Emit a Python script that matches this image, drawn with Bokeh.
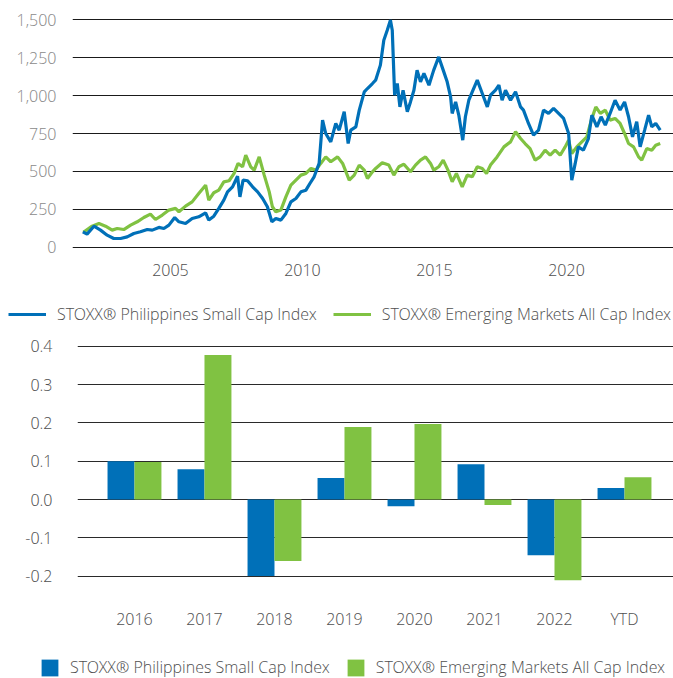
from bokeh.plotting import figure
from bokeh.models import Range1d, FixedTicker, NumeralTickFormatter, Legend, LegendItem, ColumnDataSource
from bokeh.layouts import column
from bokeh.embed import file_html
from bokeh.resources import INLINE
from bokeh.transform import dodge

# ---------------- data ----------------
ph_years = [2001.68, 2001.84, 2002.10, 2002.35, 2002.60, 2002.85, 2003.11, 2003.36, 2003.61, 2003.86,
            2004.12, 2004.31, 2004.56, 2004.75, 2004.94, 2005.16, 2005.32, 2005.57, 2005.82, 2006.07,
            2006.33, 2006.45, 2006.64, 2006.83, 2007.02, 2007.16, 2007.35, 2007.54, 2007.63, 2007.75,
            2007.92, 2008.11, 2008.30, 2008.49, 2008.67, 2008.84, 2008.99, 2009.18, 2009.37, 2009.56,
            2009.75, 2009.94, 2010.13, 2010.28, 2010.44, 2010.63, 2010.76, 2010.88, 2011.07, 2011.26,
            2011.39, 2011.58, 2011.73, 2011.83, 2012.02, 2012.15, 2012.34, 2012.46, 2012.65, 2012.77,
            2012.95, 2013.08, 2013.21, 2013.33, 2013.40, 2013.49, 2013.59, 2013.69, 2013.81, 2013.97,
            2014.09, 2014.22, 2014.34, 2014.47, 2014.60, 2014.79, 2014.97, 2015.16, 2015.33, 2015.48,
            2015.61, 2015.67, 2015.80, 2015.92, 2016.07, 2016.17, 2016.30, 2016.43, 2016.62, 2016.81,
            2017.00, 2017.12, 2017.31, 2017.44, 2017.56, 2017.69, 2017.88, 2018.07, 2018.26, 2018.37,
            2018.56, 2018.75, 2018.94, 2019.13, 2019.32, 2019.51, 2019.70, 2019.89, 2020.08, 2020.20,
            2020.33, 2020.45, 2020.64, 2020.83, 2020.96, 2021.15, 2021.31, 2021.47, 2021.65, 2021.84,
            2022.03, 2022.20, 2022.35, 2022.50, 2022.66, 2022.79, 2022.96, 2023.11, 2023.23, 2023.38,
            2023.55]
ph_values = [103, 88, 140, 114, 81, 59, 59, 70, 92, 103,
             118, 114, 132, 125, 147, 197, 169, 158, 191, 202,
             228, 180, 206, 257, 311, 366, 399, 469, 333, 443,
             439, 399, 366, 322, 268, 169, 191, 180, 224, 300,
             322, 366, 377, 421, 465, 553, 838, 750, 695, 816,
             772, 893, 684, 772, 794, 904, 1024, 1046, 1079, 1101,
             1200, 1364, 1430, 1496, 1430, 1002, 1079, 925, 1035, 893,
             958, 1035, 1167, 1090, 1145, 1068, 1167, 1254, 1167, 1090,
             991, 882, 958, 871, 706, 860, 969, 1024, 1101, 1013,
             925, 1002, 1035, 1068, 969, 1035, 969, 1024, 925, 904,
             816, 739, 772, 904, 882, 915, 882, 849, 750, 443,
             553, 662, 640, 717, 871, 794, 860, 805, 882, 969,
             904, 958, 860, 728, 827, 662, 772, 871, 794, 816,
             772]

em_years = [2001.70, 2001.78, 2002.03, 2002.29, 2002.54, 2002.79, 2002.98, 2003.23, 2003.49, 2003.74,
            2003.99, 2004.24, 2004.43, 2004.69, 2004.94, 2005.19, 2005.32, 2005.57, 2005.82, 2006.07,
            2006.33, 2006.45, 2006.64, 2006.83, 2007.02, 2007.22, 2007.41, 2007.56, 2007.73, 2007.85,
            2008.04, 2008.17, 2008.36, 2008.55, 2008.74, 2008.86, 2008.99, 2009.18, 2009.37, 2009.56,
            2009.75, 2009.94, 2010.13, 2010.32, 2010.51, 2010.69, 2010.88, 2011.07, 2011.33, 2011.52,
            2011.77, 2011.96, 2012.15, 2012.34, 2012.46, 2012.65, 2012.77, 2013.02, 2013.27, 2013.46,
            2013.65, 2013.84, 2014.09, 2014.28, 2014.47, 2014.66, 2014.85, 2014.97, 2015.16, 2015.33,
            2015.51, 2015.67, 2015.83, 2016.05, 2016.24, 2016.43, 2016.62, 2016.81, 2016.97, 2017.12,
            2017.37, 2017.63, 2017.88, 2018.07, 2018.26, 2018.43, 2018.62, 2018.81, 2019.00, 2019.19,
            2019.38, 2019.57, 2019.76, 2019.95, 2020.08, 2020.20, 2020.39, 2020.58, 2020.77, 2020.94,
            2021.11, 2021.28, 2021.47, 2021.65, 2021.84, 2022.03, 2022.20, 2022.35, 2022.54, 2022.73,
            2022.85, 2023.04, 2023.23, 2023.38, 2023.55]
em_values = [100, 110, 140, 158, 140, 114, 125, 118, 147, 169,
             197, 219, 184, 213, 246, 257, 235, 272, 300, 355,
             410, 311, 360, 377, 432, 439, 487, 553, 531, 607,
             531, 509, 596, 476, 366, 268, 235, 246, 333, 410,
             443, 476, 487, 520, 509, 553, 596, 564, 596, 553,
             443, 476, 542, 509, 454, 498, 520, 557, 542, 476,
             531, 548, 498, 542, 575, 596, 553, 509, 531, 575,
             509, 432, 487, 399, 476, 465, 531, 520, 487, 542,
             596, 662, 695, 761, 717, 684, 651, 575, 596, 640,
             607, 640, 607, 662, 706, 618, 662, 695, 728, 838,
             925, 882, 904, 838, 849, 816, 750, 684, 662, 596,
             575, 651, 640, 673, 684]

y1_ticks = [0, 250, 500, 750, 1000, 1250, 1500]
x1_ticks = [2005, 2010, 2015, 2020]

categories = ["2016", "2017", "2018", "2019", "2020", "2021", "2022", "YTD"]
ph_returns = [0.100, 0.079, -0.199, 0.056, -0.017, 0.092, -0.145, 0.030]
em_returns = [0.098, 0.377, -0.160, 0.189, 0.197, -0.014, -0.210, 0.058]
y2_ticks = [-0.2, -0.1, 0.0, 0.1, 0.2, 0.3, 0.4]

ph_label = "STOXX® Philippines Small Cap Index"
em_label = "STOXX® Emerging Markets All Cap Index"

# ---------------- style ----------------
BLUE = "#0070B8"
GREEN = "#80C242"
FONT = "'Open Sans Light', 'Open Sans'"
FS = "16px"
W = 673
NAN = float("nan")


def style_axis(ax, color, standoff):
    ax.axis_line_color = None
    ax.major_tick_line_color = None
    ax.minor_tick_line_color = None
    ax.major_tick_out = 0
    ax.major_tick_in = 0
    ax.major_label_standoff = standoff
    ax.major_label_text_font = FONT
    ax.major_label_text_font_size = FS
    ax.major_label_text_color = color


def strip(height):
    f = figure(width=W, height=height, output_backend="svg", toolbar_location=None,
               x_axis_type=None, y_axis_type=None, x_range=Range1d(0, 1), y_range=Range1d(0, 1),
               min_border=0, frame_align=False)
    f.outline_line_color = None
    f.grid.visible = False
    return f


# ---------------- top line chart ----------------
p1 = figure(width=W, height=298, output_backend="svg", toolbar_location=None,
            x_range=Range1d(2001.288, 2024.053), y_range=Range1d(-20, 1520),
            min_border_left=72, min_border_right=0, min_border_top=16, min_border_bottom=48,
            frame_align=False)
p1.outline_line_color = None
p1.yaxis.ticker = FixedTicker(ticks=y1_ticks)
p1.yaxis.formatter = NumeralTickFormatter(format="0,0")
p1.xaxis.ticker = FixedTicker(ticks=x1_ticks)
style_axis(p1.yaxis[0], "#8a8a8a", 16)
style_axis(p1.xaxis[0], "#505050", 13)
p1.xgrid.grid_line_color = None
p1.ygrid.grid_line_color = "#1a1a1a"
p1.ygrid.grid_line_width = 1

p1.line(em_years, em_values, line_color=GREEN, line_width=3.2)
p1.line(ph_years, ph_values, line_color=BLUE, line_width=3.2)

# ---------------- legend strip 1 ----------------
l1 = strip(32)
r_ph_line = l1.line(x=[NAN], y=[NAN], line_color=BLUE, line_width=3)
r_em_line = l1.line(x=[NAN], y=[NAN], line_color=GREEN, line_width=3)
leg1 = Legend(items=[LegendItem(label=ph_label, renderers=[r_ph_line]),
                     LegendItem(label=em_label, renderers=[r_em_line])],
              orientation="horizontal", location="center_left", margin=8, padding=0,
              spacing=16, glyph_width=38, glyph_height=20, label_standoff=11,
              label_text_font=FONT, label_text_font_size=FS, label_text_color="#505050",
              border_line_color=None, background_fill_alpha=0)
l1.add_layout(leg1)

# ---------------- bar chart ----------------
idx = list(range(len(categories)))
src = ColumnDataSource(dict(x=idx, ph=ph_returns, em=em_returns))
p2 = figure(width=W, height=310, output_backend="svg", toolbar_location=None,
            x_range=Range1d(-0.814, 7.7), y_range=Range1d(-0.25, 0.42),
            min_border_left=77, min_border_right=0, min_border_top=8, min_border_bottom=45,
            frame_align=False)
p2.outline_line_color = None
p2.yaxis.ticker = FixedTicker(ticks=y2_ticks)
p2.yaxis.formatter = NumeralTickFormatter(format="0.0")
p2.xaxis.ticker = FixedTicker(ticks=idx)
p2.xaxis.major_label_overrides = {i: c for i, c in zip(idx, categories)}
style_axis(p2.yaxis[0], "#505050", 25)
style_axis(p2.xaxis[0], "#505050", 12)
p2.xgrid.grid_line_color = None
p2.ygrid.grid_line_color = "#2a2a2a"
p2.ygrid.grid_line_width = 1

p2.vbar(x=dodge("x", -0.1925), top="ph", bottom=0, width=0.385, source=src,
        fill_color=BLUE, line_color=None)
p2.vbar(x=dodge("x", 0.1925), top="em", bottom=0, width=0.385, source=src,
        fill_color=GREEN, line_color=None)

# ---------------- legend strip 2 ----------------
l2 = strip(38)
r_ph_bar = l2.vbar(x=[NAN], top=[NAN], width=0.1, fill_color=BLUE, line_color=None)
r_em_bar = l2.vbar(x=[NAN], top=[NAN], width=0.1, fill_color=GREEN, line_color=None)
leg2 = Legend(items=[LegendItem(label=ph_label, renderers=[r_ph_bar]),
                     LegendItem(label=em_label, renderers=[r_em_bar])],
              orientation="horizontal", location=(39, 0), margin=0, padding=0,
              spacing=15, glyph_width=21, glyph_height=21, label_standoff=10,
              label_text_font=FONT, label_text_font_size=FS, label_text_color="#505050",
              border_line_color=None, background_fill_alpha=0)
l2.add_layout(leg2)

layout = column(p1, l1, p2, l2, spacing=0)
open("out.html", "w").write(file_html(layout, INLINE))
